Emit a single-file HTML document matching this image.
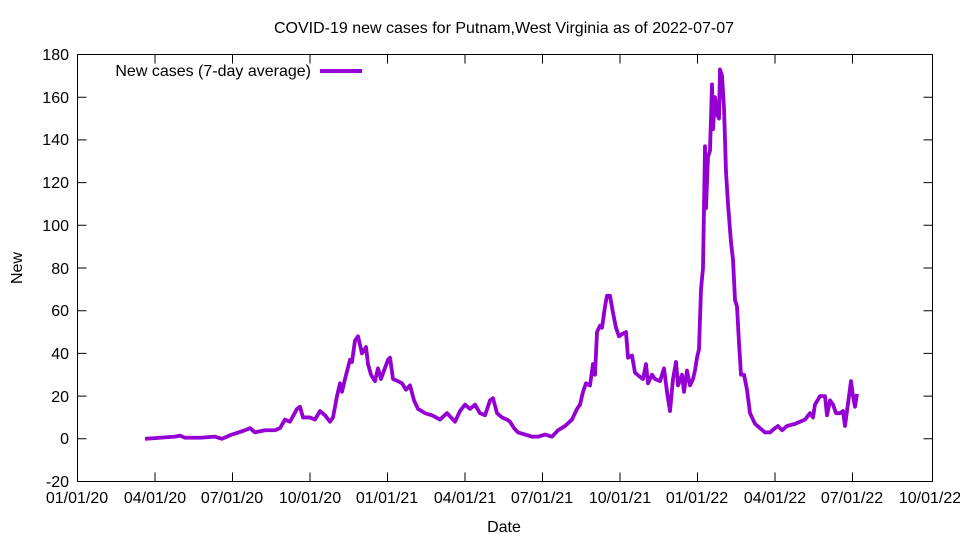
<!DOCTYPE html>
<html><head><meta charset="utf-8"><style>
html,body{margin:0;padding:0;background:#fff;}
svg{display:block;font-family:"Liberation Sans",sans-serif;}
</style></head><body>
<svg width="960" height="540" viewBox="0 0 960 540">
<rect width="960" height="540" fill="#fff"/>
<text x="504" y="33" font-size="16" text-anchor="middle">COVID-19 new cases for Putnam,West Virginia as of 2022-07-07</text>
<g stroke="#000" stroke-width="1" fill="none">
<rect x="77.5" y="54.5" width="855" height="427"/>
<path d="M77.5 481.5h9M932.5 481.5h-9M77.5 438.8h9M932.5 438.8h-9M77.5 396.1h9M932.5 396.1h-9M77.5 353.4h9M932.5 353.4h-9M77.5 310.7h9M932.5 310.7h-9M77.5 268h9M932.5 268h-9M77.5 225.3h9M932.5 225.3h-9M77.5 182.6h9M932.5 182.6h-9M77.5 139.9h9M932.5 139.9h-9M77.5 97.2h9M932.5 97.2h-9"/>
<path d="M155 481.5v-9M155 54.5v9M232.5 481.5v-9M232.5 54.5v9M310 481.5v-9M310 54.5v9M387.5 481.5v-9M387.5 54.5v9M465 481.5v-9M465 54.5v9M542.5 481.5v-9M542.5 54.5v9M620 481.5v-9M620 54.5v9M697.5 481.5v-9M697.5 54.5v9M775 481.5v-9M775 54.5v9M852.5 481.5v-9M852.5 54.5v9"/>
</g>
<g font-size="16" text-anchor="end">
<text x="69" y="487">-20</text><text x="69" y="444">0</text><text x="69" y="402">20</text><text x="69" y="359">40</text><text x="69" y="316">60</text><text x="69" y="274">80</text><text x="69" y="231">100</text><text x="69" y="188">120</text><text x="69" y="145">140</text><text x="69" y="103">160</text><text x="69" y="60">180</text>
</g>
<g font-size="16" text-anchor="middle">
<text x="77" y="503">01/01/20</text><text x="155" y="503">04/01/20</text><text x="232" y="503">07/01/20</text><text x="310" y="503">10/01/20</text><text x="387" y="503">01/01/21</text><text x="465" y="503">04/01/21</text><text x="542" y="503">07/01/21</text><text x="620" y="503">10/01/21</text><text x="697" y="503">01/01/22</text><text x="775" y="503">04/01/22</text><text x="852" y="503">07/01/22</text><text x="930" y="503">10/01/22</text>
<text x="504" y="532">Date</text>
<text x="22" y="268" transform="rotate(-90 22 268)">New</text>
</g>
<text x="311" y="76" font-size="16" text-anchor="end">New cases (7-day average)</text>
<line x1="320" y1="71" x2="362" y2="71" stroke="#9400d3" stroke-width="4"/>
<g transform="translate(0,438.8) scale(1,-2.135)">
<polyline fill="none" stroke="#9400d3" stroke-width="3.8" stroke-linejoin="round" vector-effect="non-scaling-stroke" points="145,0 160,0.5 175,1 180,1.5 185,0.5 200,0.5 215,1 222,0 232,2 245,4 250,5 255,3 265,4 275,4 280,5 285,9 290,8 297,14 300,15 303,10 310,10 315,9 320,13 325,11 330,8 333,10 337,20 340,26 342,22 345,28 350,37 352,36 355,46 358,48 362,40 366,43 368,35 371,30 375,27 378,33 381,28 384,32 388,37 390,38 393,28 398,27 402,26 406,23 410,25 414,18 418,14 425,12 432,11 440,9 447,12 455,8 460,13 465,16 470,14 475,16 480,12 485,11 490,18 493,19 497,12 502,10 507,9 510,8 514,5 518,3 525,2 532,1 538,1 545,2 552,1 558,4 565,6 572,9 577,14 580,16 583,22 586,26 590,25 593,35 595,30 597,50 600,53 602,52 605,62 607,67 610,67 613,59 616,52 619,48 622,49 626,50 628,38 632,39 635,31 640,29 643,28 646,35 648,26 652,30 655,28 660,27 664,33 667,22 670,13 673,28 676,36 678,25 682,30 684,22 687,32 690,25 693,28 695,32 697,38 699,42 701,70 703,80 705,137 706,108 708,132 710,135 712,166 713,145 715,160 717,152 719,150 720,173 722,170 724,155 726,125 728,110 731,92 733,84 735,65 737,62 739,45 741,30 744,30 747,23 750,12 755,7 760,5 765,3 770,3 775,5 778,6 782,4 787,6 795,7 800,8 805,9 810,12 813,10 815,16 820,20 825,20 827,11 830,18 833,16 836,12 840,12 843,13 845,6 847,13 849,20 851,27 853,20 855,15 857,21"/>
</g>
</svg>
</body></html>
